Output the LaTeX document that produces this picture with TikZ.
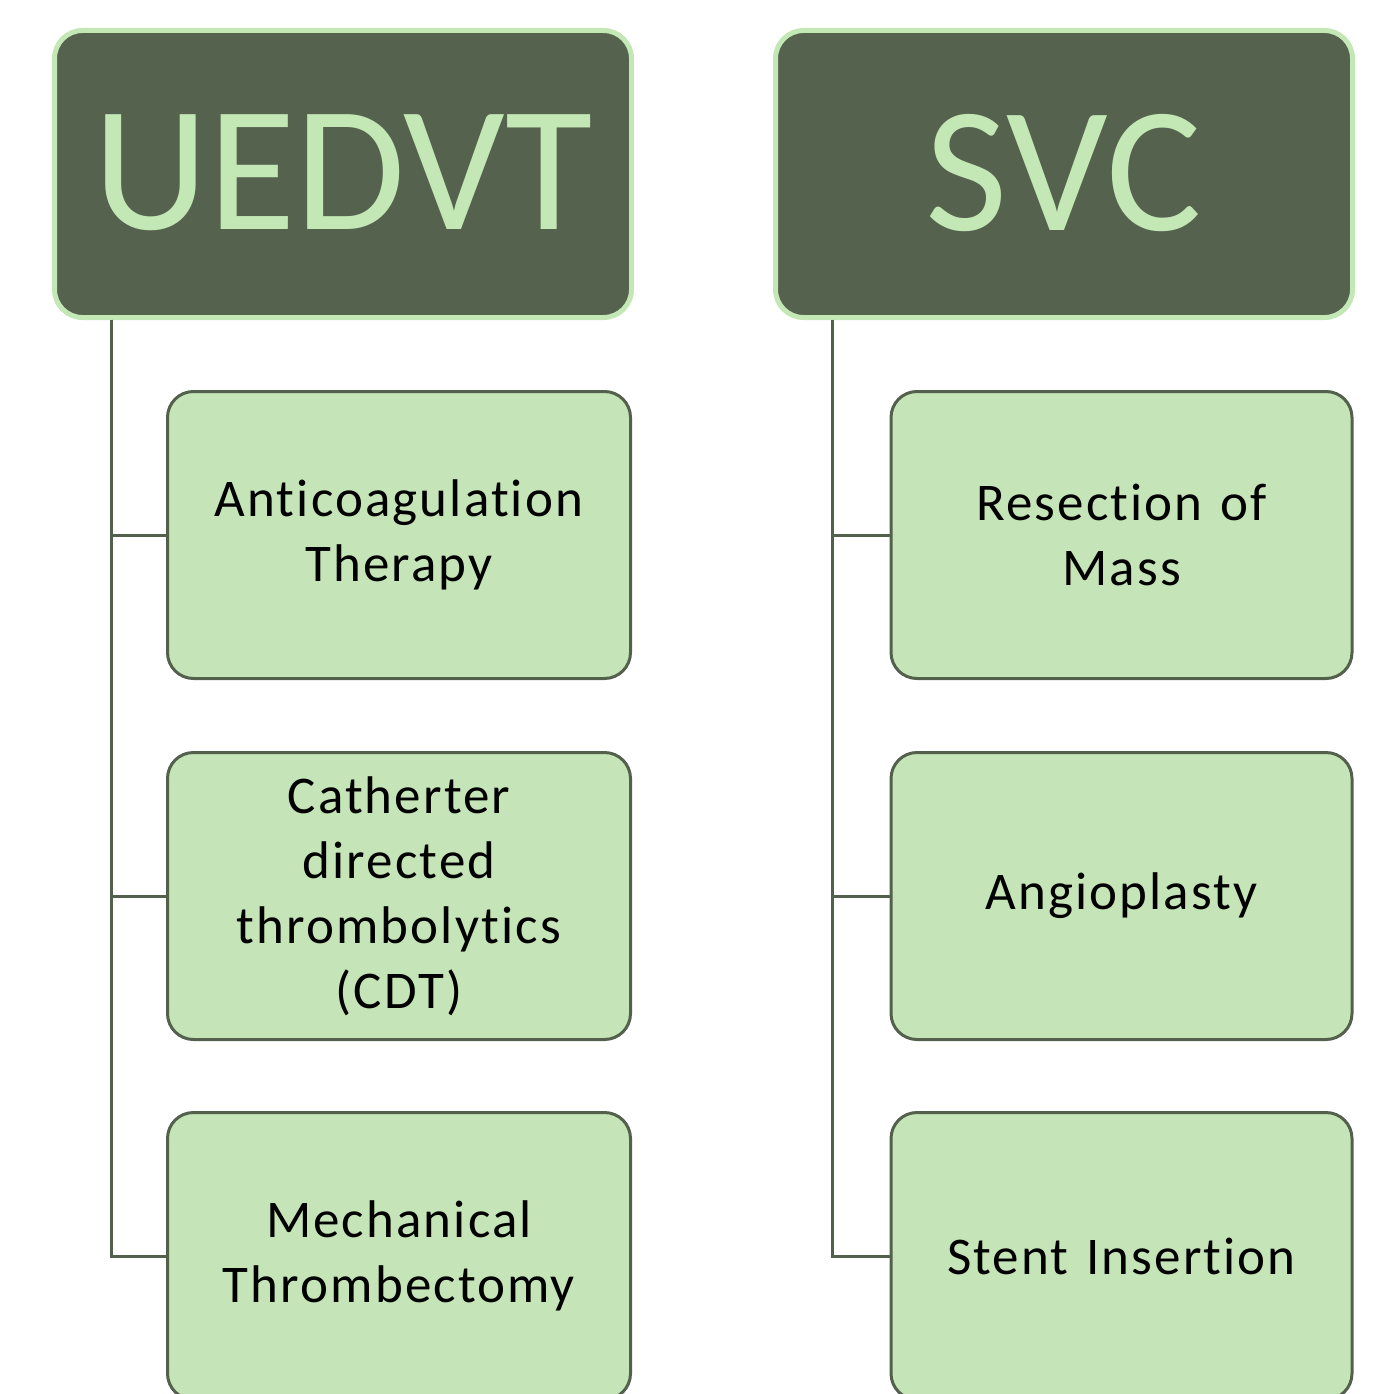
\documentclass[tikz,border=0pt]{standalone}
\usepackage{fontspec}
\setmainfont{Carlito}
\newfontfamily\itemfont[LetterSpace=4,Ligatures=NoCommon]{Carlito}
\definecolor{darkg}{RGB}{84,98,78}
\definecolor{lightg}{RGB}{197,228,183}
\definecolor{edgeg}{RGB}{82,96,76}
\definecolor{titleb}{RGB}{196,232,181}
\begin{document}
\begin{tikzpicture}[x=1pt,y=-1pt,
  headbox/.style={draw=titleb, line width=5pt, fill=darkg, rounded corners=28pt,
    minimum width=577pt, minimum height=287pt, inner sep=0pt, outer sep=0pt,
    text=titleb, font=\fontsize{179}{200}\selectfont},
  itembox/.style={draw=edgeg, line width=3pt, fill=lightg, rounded corners=26pt,
    minimum width=463pt, minimum height=287pt, inner sep=0pt, outer sep=0pt,
    text=black, align=center, text width=450pt, font=\itemfont\fontsize{53}{65}\selectfont},
  link/.style={draw=edgeg, line width=3pt}
]
\useasboundingbox (0,0) rectangle (1382,1394);
\node[headbox] (ue) at (343,174) {\raisebox{3pt}{UEDVT}};
\node[headbox] (svc) at (1064,174) {\raisebox{3pt}{SVC}};

\node[itembox] (a1) at (399,535) {Anticoagulation\\Therapy};
\node[itembox] (a2) at (399,896) {Catherter\\directed\\thrombolytics\\(CDT)};
\node[itembox] (a3) at (399,1256) {Mechanical\\Thrombectomy};

\node[itembox, minimum width=461pt] (b1) at (1121.5,535) {Resection of\\Mass};
\node[itembox, minimum width=461pt] (b2) at (1121.5,896) {Angioplasty};
\node[itembox, minimum width=461pt] (b3) at (1121.5,1256) {Stent Insertion};

\coordinate (lt) at (111,319.5);
\coordinate (rt) at (832,319.5);
\draw[link] (lt) |- (a1.west);
\draw[link] (lt) |- (a2.west);
\draw[link] (lt) |- (a3.west);
\draw[link] (rt) |- (b1.west);
\draw[link] (rt) |- (b2.west);
\draw[link] (rt) |- (b3.west);
\end{tikzpicture}
\end{document}
